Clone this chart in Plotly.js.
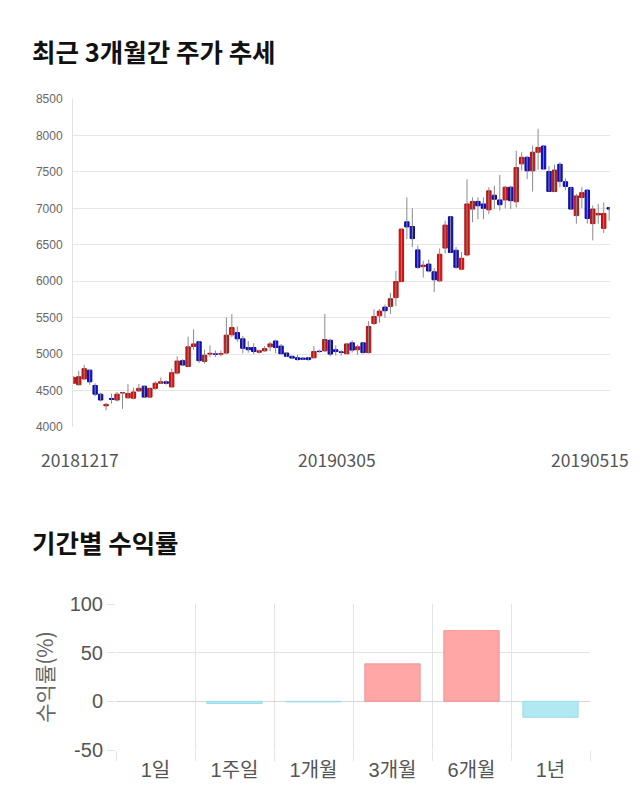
<!DOCTYPE html>
<html><head><meta charset="utf-8">
<script src="https://cdn.plot.ly/plotly-3.0.1.min.js"></script>
<style>html,body{margin:0;padding:0;background:#fff}#chart{width:640px;height:810px}</style>
</head><body><div id="chart"></div>
<script>
const dates = [
'20181217','20181218','20181219','20181220','20181221','20181224','20181226','20181227','20181228',
'20190102','20190103','20190104','20190107','20190108','20190109','20190110','20190111','20190114','20190115','20190116','20190117','20190118','20190121','20190122','20190123','20190124','20190125','20190128','20190129','20190130','20190131',
'20190201','20190207','20190208','20190211','20190212','20190213','20190214','20190215','20190218','20190219','20190220','20190221','20190222','20190225','20190226','20190227','20190228',
'20190304','20190305','20190306','20190307','20190308','20190311','20190312','20190313','20190314','20190315','20190318','20190319','20190320','20190321','20190322','20190325','20190326','20190327','20190328','20190329',
'20190401','20190402','20190403','20190404','20190405','20190408','20190409','20190410','20190411','20190412','20190415','20190416','20190417','20190418','20190419','20190422','20190423','20190424','20190425','20190426','20190429','20190430',
'20190502','20190503','20190507','20190508','20190509','20190510','20190513','20190514','20190515'];
const opens = [4600,4580,4660,4780,4570,4450,4290,4390,4370,4470,4400,4395,4495,4560,4410,4530,4600,4620,4550,4740,4910,4830,5105,5170,4900,5000,5000,5000,5015,5265,5295,5210,5090,5090,5025,5045,5100,5180,5110,5015,4970,4950,4945,4950,4950,5040,5045,5190,5060,5030,5005,5155,5060,5155,5020,5420,5525,5645,5655,5775,5995,6815,6750,6430,6200,6235,6130,6005,6455,6885,6425,6165,6360,6990,7095,7060,6980,7180,7115,7115,7290,7090,7610,7700,7515,7770,7855,7505,7230,7605,7365,7285,6900,7150,7250,6790,6910,6725,7010];
const highs = [4700,4770,4850,4790,4600,4470,4330,4460,4480,4480,4590,4540,4590,4570,4540,4630,4680,4640,4800,4970,4930,5240,5340,5180,5060,5120,5050,5050,5500,5550,5380,5250,5180,5150,5060,5110,5170,5200,5140,5030,4980,4990,4960,4960,5110,5060,5550,5210,5120,5050,5150,5190,5130,5165,5455,5615,5620,5680,5840,6140,6720,7150,7000,6490,6280,6300,6180,6450,6830,6890,6470,6400,7400,7150,7150,7150,7290,7310,7460,7310,7310,7790,7770,7720,7860,8090,7870,7580,7600,7630,7410,7300,7200,7290,7260,7040,7060,7080,7020];
const lows = [4590,4570,4640,4580,4420,4350,4230,4320,4350,4250,4390,4380,4480,4400,4400,4510,4590,4580,4540,4720,4840,4820,5060,4880,4870,4960,4960,4970,5000,5230,5170,5010,5020,5000,5010,5030,5040,5010,5000,4960,4930,4910,4920,4910,4940,5020,5030,4970,4980,4980,5000,5020,4990,5010,5010,5400,5430,5500,5550,5660,5990,6580,6470,6170,6050,6120,5850,5990,6380,6390,6170,6150,6340,6810,6850,6850,6920,6990,6970,7000,6990,7010,7520,7400,7230,7530,7540,7230,7225,7290,7250,6985,6790,7000,6790,6560,6790,6660,6830];
const closes = [4680,4690,4800,4620,4450,4370,4310,4380,4450,4470,4460,4480,4530,4410,4530,4600,4620,4600,4745,4905,4850,5100,5140,4910,4985,5010,5000,5005,5260,5365,5210,5080,5060,5035,5045,5075,5140,5090,5005,4970,4945,4925,4930,4925,5035,5035,5200,5000,5035,5025,5140,5055,5100,5020,5380,5515,5590,5595,5760,5995,6715,6745,6585,6190,6220,6140,6020,6370,6770,6395,6190,6315,7060,7095,7035,7000,7240,7125,7050,7290,7105,7560,7700,7515,7770,7835,7540,7232,7525,7370,7300,6990,7170,7215,6860,6990,6930,6930,6990];
const priceTicks = [4000,4500,5000,5500,6000,6500,7000,7500,8000,8500];
const dateLabels = ['20181217','20190305','20190515'];
const periods = ['1일','1주일','1개월','3개월','6개월','1년'];
const returns = [0,-2.2,-0.6,38.5,72.6,-16.4];
const returnTicks = [-50,0,50,100];

const bodyTop = opens.map((o,i)=>Math.max(o,closes[i]));
const bodyBot = opens.map((o,i)=>Math.min(o,closes[i]));
const KR = '"Noto Sans CJK KR", "Noto Sans", sans-serif';
const SANS = '"Liberation Sans", Arial, "Noto Sans CJK KR", sans-serif';

const wicks = {type:'ohlc', x:dates, open:opens, high:highs, low:lows, close:closes,
  tickwidth:0, xaxis:'x', yaxis:'y', hoverinfo:'skip', showlegend:false,
  increasing:{line:{color:'#8a8a8a', width:1}}, decreasing:{line:{color:'#8a8a8a', width:1}}};
const candles = {type:'candlestick', x:dates, open:opens, high:bodyTop, low:bodyBot, close:closes,
  xaxis:'x', yaxis:'y', showlegend:false, whiskerwidth:0,
  increasing:{line:{color:'#b81010', width:1}, fillcolor:'#d41414'},
  decreasing:{line:{color:'#0a0aa8', width:1}, fillcolor:'#1010cc'}};
const bars = {type:'bar', x:periods, y:returns, xaxis:'x2', yaxis:'y2', width:0.7, showlegend:false,
  marker:{color:returns.map(v=>v>=0?'#ffa6a6':'#b0e9f2'),
          line:{color:returns.map(v=>v>=0?'#f29393':'#9edde8'), width:returns.map(v=>v===0?0:1)}}};

const shifts = [7,-4,-19];
const annotations = [
  {text:'<b>최근 3개월간 주가 추세</b>', xref:'paper', yref:'paper', x:30/640, y:1-50/810, xanchor:'left', yanchor:'middle', showarrow:false, font:{family:KR, size:25.5, color:'#111'}},
  {text:'<b>기간별 수익률</b>', xref:'paper', yref:'paper', x:30/640, y:1-541/810, xanchor:'left', yanchor:'middle', showarrow:false, font:{family:KR, size:25.5, color:'#111'}}
].concat(dateLabels.map((d,i)=>({text:d, xref:'x', yref:'paper', x:dates.indexOf(d), y:1-459/810, xanchor:'center', yanchor:'middle', xshift:shifts[i], showarrow:false, font:{family:KR, size:17.5, color:'#555'}})));

const layout = {
  width:640, height:810, margin:{l:0,r:0,t:0,b:0},
  paper_bgcolor:'#fff', plot_bgcolor:'#fff', showlegend:false, boxgap:0.2, boxgroupgap:0,
  xaxis:{domain:[73/640,610/640], anchor:'y', type:'category', range:[-0.05,98.15], rangeslider:{visible:false},
    showticklabels:false, showgrid:false, zeroline:false, ticks:'', fixedrange:true},
  yaxis:{domain:[1-427/810,1-99/810], anchor:'x', range:[4000,8500], tickvals:priceTicks,
    gridcolor:'#e6e6e6', showline:true, linecolor:'#e2e2e2', zeroline:false,
    ticks:'outside', ticklen:7, tickcolor:'rgba(0,0,0,0)',
    tickfont:{family:SANS, size:12, color:'#666'}},
  xaxis2:{domain:[116/640,590/640], anchor:'y2', type:'category', range:[-0.5,5.5], tickson:'boundaries',
    ticks:'outside', ticklen:10, tickcolor:'#e3e3e3', showgrid:true, gridcolor:'#e3e3e3', zeroline:false,
    ticklabelstandoff:6,
    tickfont:{family:SANS, size:20, color:'#555'}},
  yaxis2:{domain:[1-750/810,1-604/810], anchor:'x2', range:[-50,100], tickvals:returnTicks,
    ticktext:returnTicks.map(String),
    gridcolor:'#e3e3e3', zeroline:true, zerolinecolor:'#d6d6d6', zerolinewidth:1,
    ticks:'outside', ticklen:8, tickcolor:'#e3e3e3',
    tickfont:{family:SANS, size:20, color:'#555'},
    title:{text:'수익률(%)', font:{family:KR, size:21, color:'#666'}, standoff:10}},
  annotations:annotations
};
Plotly.newPlot('chart', [wicks, candles, bars], layout, {displayModeBar:false, staticPlot:true});
</script></body></html>
